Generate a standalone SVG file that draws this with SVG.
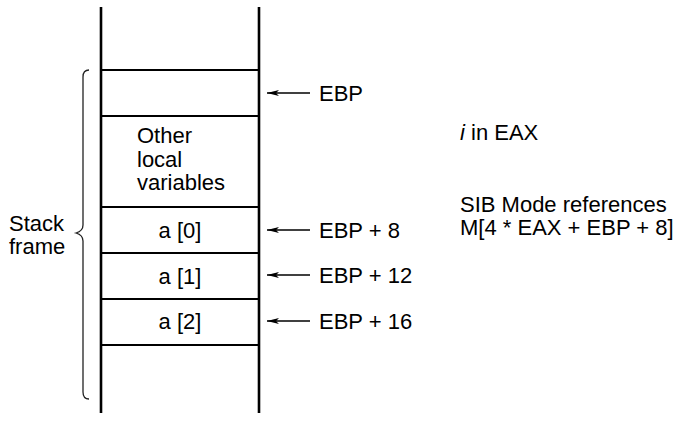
<svg xmlns="http://www.w3.org/2000/svg" width="683" height="427" viewBox="0 0 683 427">
<style>
text{font-family:"Liberation Sans",Arial,sans-serif;font-size:22px;fill:#000}
.wall{stroke:#000;stroke-width:2.6;fill:none}
.cellline{stroke:#000;stroke-width:2;fill:none}
.arr{stroke:#000;stroke-width:1.3;fill:none}
.brace{stroke:#222;stroke-width:1.3;fill:none}
</style>
<defs>
<marker id="ah" viewBox="0 0 12 8" refX="12" refY="4" markerWidth="12" markerHeight="8" markerUnits="userSpaceOnUse" orient="auto">
<path d="M12,4 L0,0.9 L3,4 L0,7.1 Z" fill="#000"/>
</marker>
</defs>
<g id="stack">
<line class="wall" x1="101" y1="7" x2="101" y2="413"/>
<line class="wall" x1="259" y1="7" x2="259" y2="413"/>
<line class="cellline" x1="101" y1="70" x2="259" y2="70"/>
<line class="cellline" x1="101" y1="116" x2="259" y2="116"/>
<line class="cellline" x1="101" y1="207" x2="259" y2="207"/>
<line class="cellline" x1="101" y1="253" x2="259" y2="253"/>
<line class="cellline" x1="101" y1="299" x2="259" y2="299"/>
<line class="cellline" x1="101" y1="345" x2="259" y2="345"/>
</g>
<g id="cell-locals">
<text x="137" y="143">Other</text>
<text x="137" y="167">local</text>
<text x="137" y="190">variables</text>
</g>
<g id="cell-a0"><text x="180" y="238" text-anchor="middle">a [0]</text></g>
<g id="cell-a1"><text x="180" y="284" text-anchor="middle">a [1]</text></g>
<g id="cell-a2"><text x="180" y="329" text-anchor="middle">a [2]</text></g>
<g id="stack-frame">
<path class="brace" d="M89,70 Q83,70 83,77 L83,225 Q83,231 76,233 Q83,235 83,241 L83,392 Q83,399 89,399"/>
<text x="9" y="231">Stack</text>
<text x="9" y="254">frame</text>
</g>
<g id="connectors">
<line class="arr" x1="310" y1="93" x2="267" y2="93" marker-end="url(#ah)"/>
<line class="arr" x1="310" y1="230" x2="267" y2="230" marker-end="url(#ah)"/>
<line class="arr" x1="310" y1="275" x2="267" y2="275" marker-end="url(#ah)"/>
<line class="arr" x1="310" y1="321" x2="267" y2="321" marker-end="url(#ah)"/>
</g>
<g id="labels">
<text x="319" y="101">EBP</text>
<text x="319" y="238">EBP + 8</text>
<text x="319" y="283">EBP + 12</text>
<text x="319" y="329">EBP + 16</text>
</g>
<g id="notes">
<text x="460" y="140"><tspan font-style="italic">i</tspan> in EAX</text>
<text x="460" y="212">SIB Mode references</text>
<text x="460" y="235">M[4 * EAX + EBP + 8]</text>
</g>
</svg>
